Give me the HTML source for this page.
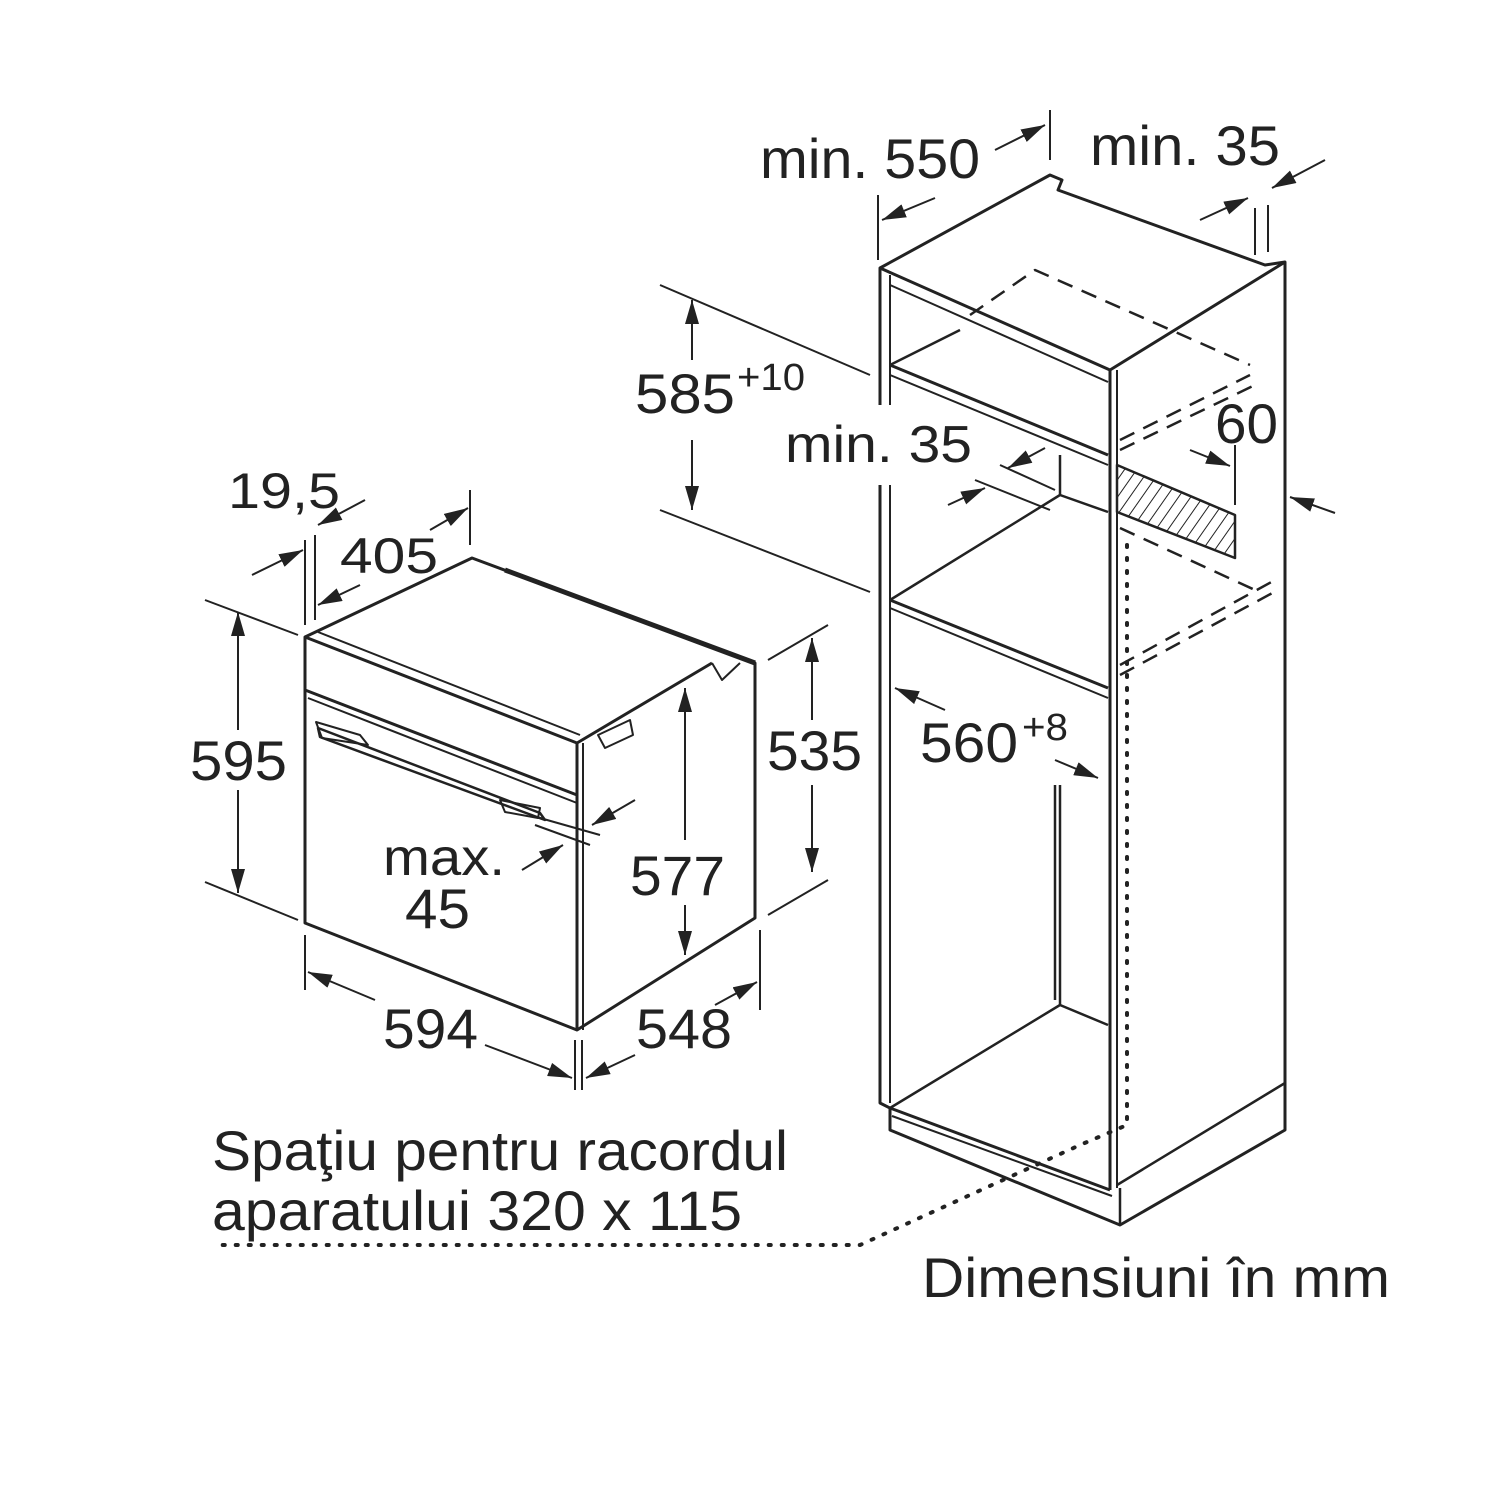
<!DOCTYPE html>
<html><head><meta charset="utf-8"><style>
html,body{margin:0;padding:0;background:#fff}
svg{display:block}
text{font-family:"Liberation Sans",sans-serif;fill:#222}
</style></head><body>
<svg width="1500" height="1500" viewBox="0 0 1500 1500" xmlns="http://www.w3.org/2000/svg">
<defs>
<marker id="A" viewBox="0 0 24 14" markerWidth="24" markerHeight="14" refX="24" refY="7" orient="auto" markerUnits="userSpaceOnUse"><path d="M0,0 L24,7 L0,14 z" fill="#222"/></marker>
<pattern id="h" width="10" height="10" patternUnits="userSpaceOnUse" patternTransform="rotate(35)"><line x1="0" y1="0" x2="0" y2="10" stroke="#222" stroke-width="2"/></pattern>
</defs>
<g stroke="#222" stroke-width="3" fill="none" stroke-linejoin="round">
<!-- OVEN -->
<path d="M305,637 L472,558 L755,663 L755,918 L577,1030 L305,923 Z" fill="#fff"/>
<line x1="577" y1="743" x2="577" y2="1030"/>
<line x1="583" y1="743" x2="583" y2="1030" stroke-width="2"/>
<path d="M305,637 L577,743 L712,663"/>
<path d="M318,632 L580,735" stroke-width="2"/>
<path d="M712,663 L722,680 L740,663" stroke-width="2"/>
<path d="M305,690 L577,795" />
<path d="M308,698 L577,803" stroke-width="2"/>
<path d="M318,728 L540,813 L545,820 L320,737 Z" stroke-width="2.5"/>
<path d="M316,722 L360,735 L368,745 L322,738Z" stroke-width="2"/>
<path d="M500,800 L540,808 L538,818 L505,812Z" stroke-width="2"/>
<path d="M598,735 L630,720 L633,735 L605,748Z" stroke-width="2"/>
<path d="M505,570 L755,663" stroke-width="5"/>
<!-- oven dimension lines -->
<line x1="305" y1="540" x2="305" y2="625" stroke-width="2"/>
<line x1="315" y1="535" x2="315" y2="620" stroke-width="2"/>
<line x1="470" y1="490" x2="470" y2="545" stroke-width="2"/>
<line x1="252" y1="575" x2="303" y2="550" stroke-width="2" marker-end="url(#A)"/>
<line x1="365" y1="500" x2="318" y2="525" stroke-width="2" marker-end="url(#A)"/>
<line x1="360" y1="585" x2="318" y2="605" stroke-width="2" marker-end="url(#A)"/>
<line x1="430" y1="530" x2="468" y2="508" stroke-width="2" marker-end="url(#A)"/>
<line x1="205" y1="600" x2="298" y2="635" stroke-width="2"/>
<line x1="205" y1="882" x2="298" y2="920" stroke-width="2"/>
<line x1="238" y1="730" x2="238" y2="612" stroke-width="2" marker-end="url(#A)"/>
<line x1="238" y1="790" x2="238" y2="893" stroke-width="2" marker-end="url(#A)"/>
<line x1="768" y1="660" x2="828" y2="625" stroke-width="2"/>
<line x1="768" y1="915" x2="828" y2="880" stroke-width="2"/>
<line x1="812" y1="720" x2="812" y2="638" stroke-width="2" marker-end="url(#A)"/>
<line x1="812" y1="785" x2="812" y2="872" stroke-width="2" marker-end="url(#A)"/>
<line x1="685" y1="840" x2="685" y2="688" stroke-width="2" marker-end="url(#A)"/>
<line x1="685" y1="905" x2="685" y2="955" stroke-width="2" marker-end="url(#A)"/>
<line x1="540" y1="818" x2="600" y2="835" stroke-width="2"/>
<line x1="535" y1="825" x2="590" y2="845" stroke-width="2"/>
<line x1="635" y1="800" x2="592" y2="825" stroke-width="2" marker-end="url(#A)"/>
<line x1="522" y1="870" x2="563" y2="845" stroke-width="2" marker-end="url(#A)"/>
<line x1="305" y1="935" x2="305" y2="990" stroke-width="2"/>
<line x1="575" y1="1040" x2="575" y2="1090" stroke-width="2"/>
<line x1="582" y1="1040" x2="582" y2="1090" stroke-width="2"/>
<line x1="760" y1="930" x2="760" y2="1010" stroke-width="2"/>
<line x1="375" y1="1000" x2="308" y2="972" stroke-width="2" marker-end="url(#A)"/>
<line x1="485" y1="1045" x2="572" y2="1078" stroke-width="2" marker-end="url(#A)"/>
<line x1="635" y1="1055" x2="586" y2="1078" stroke-width="2" marker-end="url(#A)"/>
<line x1="715" y1="1005" x2="757" y2="982" stroke-width="2" marker-end="url(#A)"/>
<!-- CABINET -->
<path d="M880,268 L1050,175 L1062,180 L1058,190 L1265,265 L1285,262 L1285,1130 L1120,1225 L890,1130 L890,1108 L880,1103 Z" fill="#fff"/>
<line x1="1110" y1="370" x2="1110" y2="1190" />
<line x1="1117" y1="370" x2="1117" y2="1188" stroke-width="2"/>
<path d="M880,268 L1110,370 L1285,262"/>
<line x1="890" y1="275" x2="890" y2="1103" stroke-width="2"/>
<path d="M890,285 L1108,382" stroke-width="2"/>
<path d="M890,365 L1108,455"/>
<path d="M890,375 L1108,465" stroke-width="2"/>
<path d="M890,365 L960,330" stroke-width="2.5"/>
<line x1="1060" y1="455" x2="1060" y2="495" stroke-width="2.5"/>
<path d="M1060,495 L1108,512" stroke-width="2.5"/>
<path d="M890,600 L1060,495" stroke-width="2.5"/>
<path d="M890,600 L1108,688"/>
<path d="M890,608 L1108,698" stroke-width="2"/>
<line x1="1060" y1="785" x2="1060" y2="1005" stroke-width="2.5"/>
<path d="M890,1108 L1060,1005 L1108,1025" stroke-width="2.5"/>
<path d="M890,1108 L1110,1190"/>
<path d="M892,1116 L1112,1196" stroke-width="2"/>
<path d="M1117,1185 L1285,1083" stroke-width="2.5"/>
<line x1="1120" y1="1188" x2="1120" y2="1225" stroke-width="2.5"/>
<path d="M1117,465 L1235,515 L1235,558 L1117,512 Z" fill="url(#h)" stroke-width="2.5"/>
<g stroke-dasharray="16,10" stroke-width="2.5">
<path d="M970,315 L1035,270 L1250,365"/>
<path d="M1120,440 L1250,375"/>
<path d="M1120,450 L1255,385"/>
<path d="M1120,528 L1255,590"/>
<path d="M1120,665 L1275,580"/>
<path d="M1120,675 L1278,590"/>
</g>
<path d="M1127,545 L1127,1125 L1080,1145 L860,1245 L215,1245" stroke-dasharray="2,11" stroke-width="4" stroke-linecap="round"/>
<rect x="874" y="405" width="22" height="80" fill="#fff" stroke="none"/>
<!-- cabinet dims -->
<line x1="878" y1="195" x2="878" y2="260" stroke-width="2"/>
<line x1="1050" y1="110" x2="1050" y2="160" stroke-width="2"/>
<line x1="1255" y1="208" x2="1255" y2="255" stroke-width="2"/>
<line x1="1268" y1="205" x2="1268" y2="252" stroke-width="2"/>
<line x1="935" y1="198" x2="882" y2="220" stroke-width="2" marker-end="url(#A)"/>
<line x1="995" y1="150" x2="1045" y2="125" stroke-width="2" marker-end="url(#A)"/>
<line x1="1200" y1="220" x2="1248" y2="198" stroke-width="2" marker-end="url(#A)"/>
<line x1="1325" y1="160" x2="1272" y2="188" stroke-width="2" marker-end="url(#A)"/>
<line x1="660" y1="285" x2="870" y2="375" stroke-width="2"/>
<line x1="660" y1="510" x2="870" y2="592" stroke-width="2"/>
<line x1="692" y1="360" x2="692" y2="300" stroke-width="2" marker-end="url(#A)"/>
<line x1="692" y1="440" x2="692" y2="510" stroke-width="2" marker-end="url(#A)"/>
<line x1="1000" y1="465" x2="1055" y2="490" stroke-width="2"/>
<line x1="975" y1="480" x2="1050" y2="510" stroke-width="2"/>
<line x1="1045" y1="448" x2="1008" y2="468" stroke-width="2" marker-end="url(#A)"/>
<line x1="948" y1="505" x2="985" y2="488" stroke-width="2" marker-end="url(#A)"/>
<line x1="1235" y1="445" x2="1235" y2="505" stroke-width="2"/>
<line x1="1190" y1="450" x2="1230" y2="466" stroke-width="2" marker-end="url(#A)"/>
<line x1="1335" y1="513" x2="1290" y2="497" stroke-width="2" marker-end="url(#A)"/>
<line x1="945" y1="710" x2="895" y2="688" stroke-width="2" marker-end="url(#A)"/>
<line x1="1055" y1="760" x2="1098" y2="778" stroke-width="2" marker-end="url(#A)"/>
<line x1="1055" y1="785" x2="1055" y2="1000" stroke-width="2.5"/>
</g>
<g font-size="56" lengthAdjust="spacingAndGlyphs">
<text x="760" y="178" textLength="220" lengthAdjust="spacingAndGlyphs">min. 550</text>
<text x="1090" y="165" textLength="190" lengthAdjust="spacingAndGlyphs">min. 35</text>
<text x="635" y="413" textLength="100" lengthAdjust="spacingAndGlyphs">585</text>
<text x="737" y="390" font-size="38" textLength="68" lengthAdjust="spacingAndGlyphs">+10</text>
<text x="785" y="462" font-size="52" textLength="187" lengthAdjust="spacingAndGlyphs">min. 35</text>
<text x="1215" y="443" textLength="63" lengthAdjust="spacingAndGlyphs">60</text>
<text x="228" y="508" font-size="50" textLength="112" lengthAdjust="spacingAndGlyphs">19,5</text>
<text x="340" y="573" font-size="50" textLength="98" lengthAdjust="spacingAndGlyphs">405</text>
<text x="190" y="780" textLength="97" lengthAdjust="spacingAndGlyphs">595</text>
<text x="767" y="770" textLength="95" lengthAdjust="spacingAndGlyphs">535</text>
<text x="920" y="762" textLength="98" lengthAdjust="spacingAndGlyphs">560</text>
<text x="1022" y="740" font-size="38" textLength="46" lengthAdjust="spacingAndGlyphs">+8</text>
<text x="383" y="875" font-size="52" textLength="122" lengthAdjust="spacingAndGlyphs">max.</text>
<text x="405" y="928" textLength="65" lengthAdjust="spacingAndGlyphs">45</text>
<text x="630" y="895" textLength="95" lengthAdjust="spacingAndGlyphs">577</text>
<text x="383" y="1048" textLength="95" lengthAdjust="spacingAndGlyphs">594</text>
<text x="636" y="1048" textLength="96" lengthAdjust="spacingAndGlyphs">548</text>
<text x="212" y="1170" textLength="576" lengthAdjust="spacingAndGlyphs">Spaţiu pentru racordul</text>
<text x="212" y="1230" textLength="530" lengthAdjust="spacingAndGlyphs">aparatului 320 x 115</text>
<text x="922" y="1297" textLength="468" lengthAdjust="spacingAndGlyphs">Dimensiuni în mm</text>
</g>
</svg>
</body></html>
